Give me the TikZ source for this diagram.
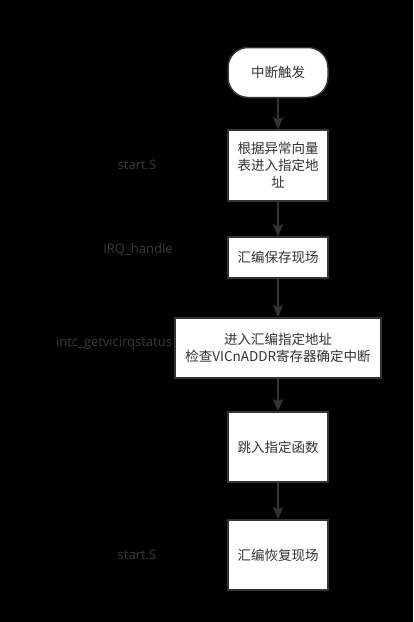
\documentclass[tikz,border=0pt]{standalone}
\usepackage{fontspec}
\setmainfont{Open Sans}
\newfontfamily\cjk{Noto Sans CJK SC}
\usetikzlibrary{arrows.meta, positioning}
\definecolor{linegray}{HTML}{333333}
\definecolor{labelgray}{HTML}{3A3A3A}

\begin{document}
\begin{tikzpicture}[x=1pt, y=-1pt, >={Stealth[length=12pt, width=10pt, inset=2pt]},
    stepbox/.style={draw=linegray, line width=1.5pt, fill=white, minimum width=100pt,
      align=center, font=\cjk\fontsize{13.5pt}{17pt}\selectfont, text=linegray, inner sep=0pt},
    startbox/.style={stepbox, rounded corners=20pt},
    flow/.style={->, draw=linegray, line width=1.8pt},
    tag/.style={text=labelgray, font=\fontsize{13pt}{15pt}\selectfont}]
			\fill[black] (0,0) rectangle (413,622);
			\useasboundingbox (0,0) rectangle (413,622);
			
			% Labels on the left
			\node[tag] (t1) at (137,165) {start.S};
			\node[tag] (t2) at (138,250) {IRQ\_handle};
			\node[tag] (t3) at (114,343) {intc\_getvicirqstatus};
			\node[tag] (t4) at (137,555) {start.S};
			
			% Steps
			\node[startbox, minimum height=50pt] (trig) at (278,72.5) {中断触发};
			\node[stepbox, minimum height=71pt] (vec) at (278,165.5) {根据异常向量\\表进入指定地\\址};
			\node[stepbox, minimum height=41pt] (save) at (278,257.5) {汇编保存现场};
			\node[stepbox, minimum width=206pt, minimum height=60pt] (check) at (278,348) {进入汇编指定地址\\检查VICnADDR寄存器确定中断};
			\node[stepbox, minimum height=70pt] (jump) at (278,447) {跳入指定函数};
			\node[stepbox, minimum height=70pt] (rest) at (278,555) {汇编恢复现场};
			
			% Arrows
			\draw[flow] (trig) -- (vec);
			\draw[flow] (vec) -- (save);
			\draw[flow] (save) -- (check);
			\draw[flow] (check) -- (jump);
			\draw[flow] (jump) -- (rest);
		\end{tikzpicture}
\end{document}
